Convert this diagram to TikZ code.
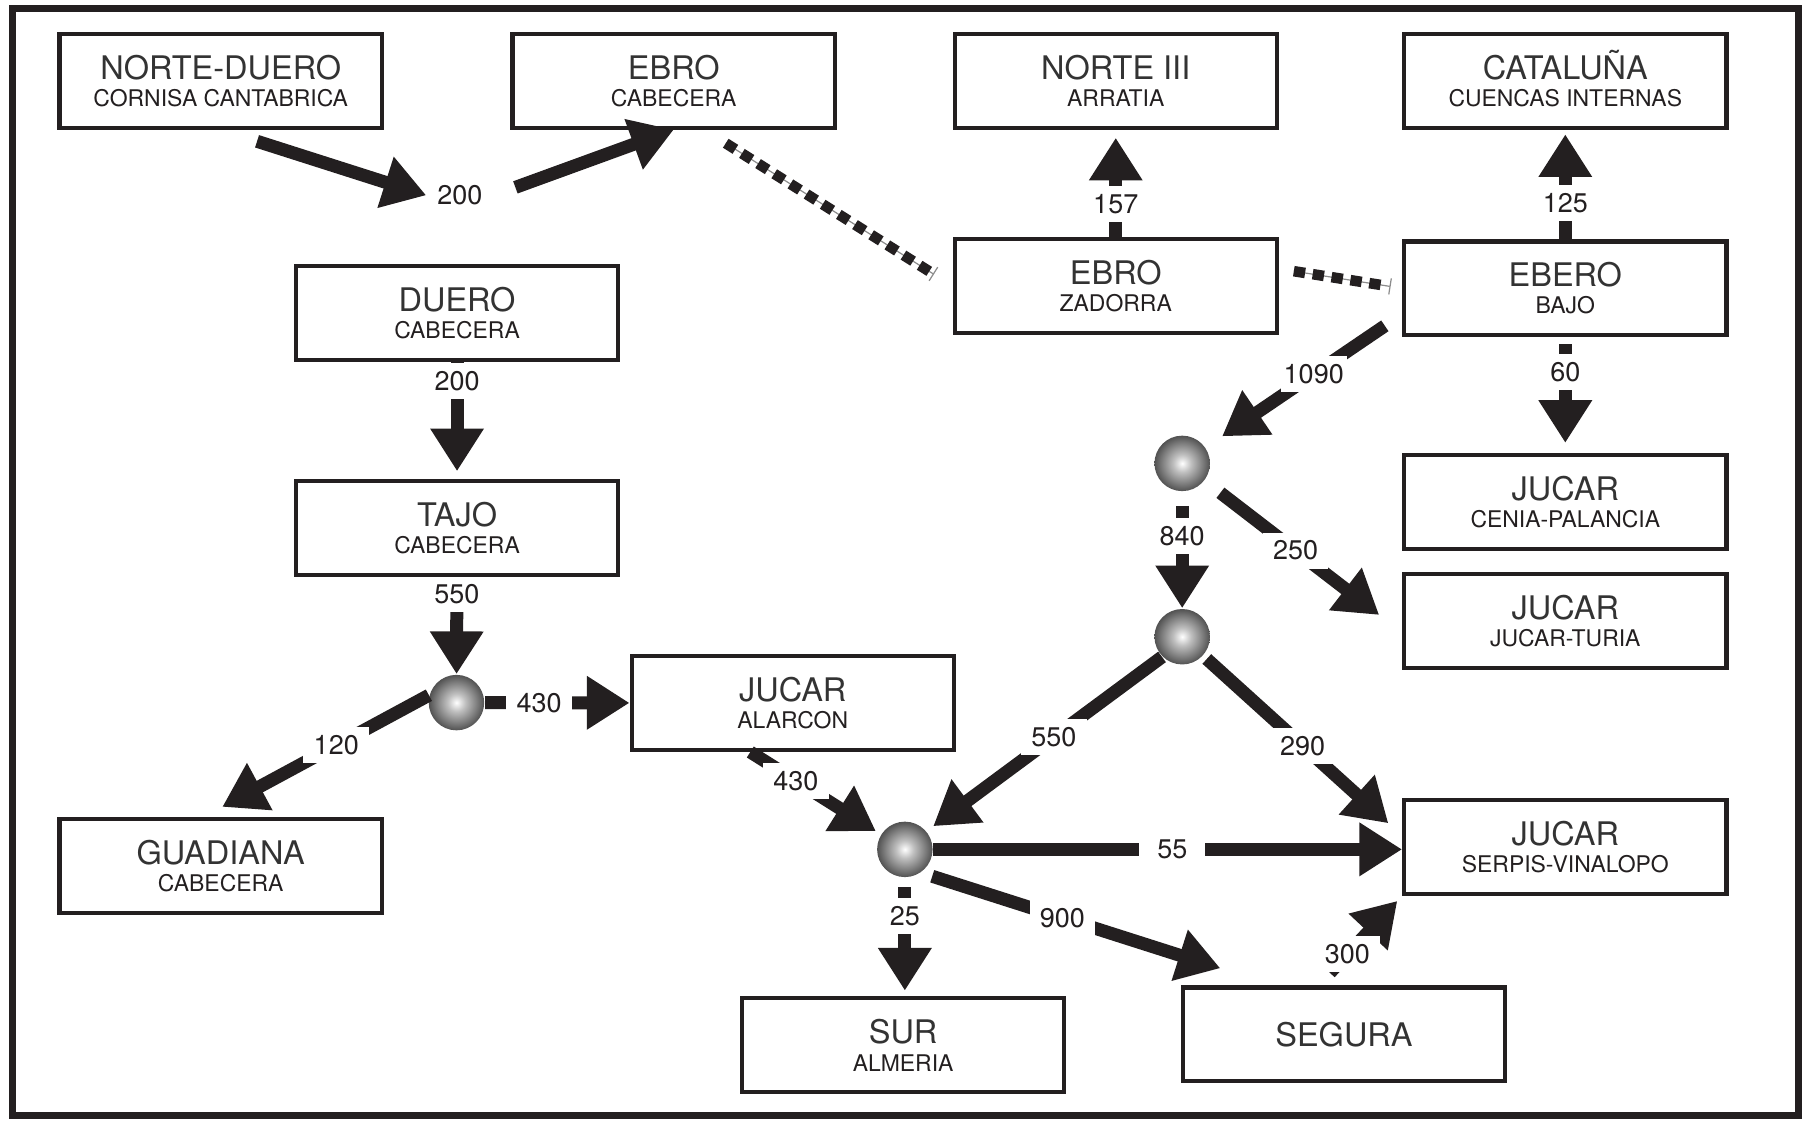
\documentclass[tikz,border=0pt]{standalone}
\usepackage{fontspec}
\setmainfont{TeX Gyre Heros}
\usetikzlibrary{arrows.meta}
\definecolor{ink}{HTML}{231F20}
\pgfdeclareradialshading{ballgray}{\pgfpoint{0bp}{0bp}}{color(0bp)=(white); color(8bp)=(black!25); color(18bp)=(black!50); color(25bp)=(black!68); color(50bp)=(black!68)}
\newcommand{\reg}[2]{{\color{black!80}#1}\\{\fontsize{5.65}{6.75}\selectfont #2}}

\begin{document}
\begin{tikzpicture}
	\tikzstyle{basin}=[draw=ink,line width=1pt,shape=rectangle,minimum width=2.79cm,minimum height=0.81cm,align=center,text=ink,font=\fontsize{8}{6.75}\selectfont]
	\tikzstyle{junction}=[shape=circle,shading=ballgray,minimum size=0.48cm,inner sep=0pt]
	\tikzstyle{flow}=[ink,line width=3.2pt,-{Triangle[width=12.5pt,length=10.5pt]}]
	\tikzstyle{qty}=[fill=white,text=ink,font=\fontsize{6.65}{7}\selectfont,inner sep=0pt,minimum width=0.57cm,minimum height=0.31cm]
	\tikzstyle{ebrolink}=[ink,line width=2.6pt,dash pattern=on 2.8pt off 1.9pt]
	\tikzstyle{hair}=[black!45,line width=0.3pt,-{Bar[width=4pt]}]

	\useasboundingbox (0,0) rectangle (15.68,9.70);
	\draw[ink,line width=1.7pt] (0.11,0.05) rectangle (15.56,9.63);

	\node[basin](nduero) at (1.91,9.00){\reg{NORTE-DUERO}{CORNISA CANTABRICA}};
	\node[basin](ebrocab) at (5.83,9.00){\reg{EBRO}{CABECERA}};
	\node[basin](norte3) at (9.655,9.00){\reg{NORTE III}{ARRATIA}};
	\node[basin](catal) at (13.545,9.00){\reg{CATALU\smash{Ñ}A}{CUENCAS INTERNAS}};
	
	\node[basin](duero) at (3.955,6.99){\reg{DUERO}{CABECERA}};
	\node[basin](tajo) at (3.955,5.13){\reg{TAJO}{CABECERA}};
	\node[basin](guadiana) at (1.91,2.205){\reg{GUADIANA}{CABECERA}};
	\node[basin](alarcon) at (6.86,3.615){\reg{JUCAR}{ALARCON}};
	\node[basin](sur) at (7.815,0.655){\reg{SUR}{ALMERIA}};
	\node[basin](segura) at (11.63,0.75){\color{black!80}SEGURA};
	
	\node[basin](zadorra) at (9.655,7.225){\reg{EBRO}{ZADORRA}};
	\node[basin](ebrobajo) at (13.545,7.205){\reg{EBERO}{BAJO}};
	\node[basin](cenia) at (13.545,5.355){\reg{JUCAR}{CENIA-PALANCIA}};
	\node[basin](turia) at (13.545,4.325){\reg{JUCAR}{JUCAR-TURIA}};
	\node[basin](serpis) at (13.545,2.37){\reg{JUCAR}{SERPIS-VINALOPO}};
	
	\node[junction](j1) at (3.95,3.62){};
	\node[junction](j2) at (10.23,5.69){};
	\node[junction](j3) at (10.23,4.19){};
	\node[junction](j4) at (7.83,2.35){};
	
	\node[qty](q200) at (3.98,8.01){200};
	
	\draw[flow,shorten <=0.33cm] (nduero.south) -- (q200.west);
	\draw[flow,shorten <=0.2cm] (q200.east) -- (ebrocab.south);
	
	\draw[hair,shorten <=0.22cm,shorten >=0.19cm] (ebrocab.-58) -- (zadorra.west);
	\draw[ebrolink,shorten <=0.22cm,shorten >=0.23cm] (ebrocab.-58) -- (zadorra.west);
	\draw[hair,shorten <=0.13cm,shorten >=0.1cm] (zadorra.6) -- (ebrobajo.west);
	\draw[ebrolink,shorten <=0.13cm,shorten >=0.14cm] (zadorra.6) -- (ebrobajo.west);
	
	\draw[flow,shorten >=0.07cm] (duero) -- (tajo) node[qty,pos=0.16]{200};
	\draw[flow] (tajo) -- (j1) node[qty,pos=0.18]{550};
	\draw[flow,shorten >=0.19cm] (j1.165) -- (guadiana.110) node[qty,pos=0.41]{120};
	\draw[flow] (j1) -- (alarcon) node[qty,pos=0.375]{430};
	\draw[flow,shorten >=0.05cm] (alarcon.-131) -- (j4) node[qty,pos=0.35]{430};
	
	\draw[flow,shorten >=0.07cm] (zadorra) -- (norte3) node[qty,pos=0.31]{157};
	\draw[flow,shorten >=0.04cm] (ebrobajo) -- (catal) node[qty,pos=0.33]{125};
	\draw[flow,shorten <=0.06cm,shorten >=0.09cm] (ebrobajo) -- (cenia) node[qty,pos=0.3]{60};
	\draw[flow,shorten <=0.18cm,shorten >=0.17cm] (ebrobajo.-171) -- (j2) node[qty,pos=0.45]{1090};
	
	\draw[flow,shorten <=0.12cm] (j2) -- (j3) node[qty,pos=0.38]{840};
	\draw[flow,shorten <=0.17cm,shorten >=0.25cm] (j2) -- (turia.184) node[qty,pos=0.46]{250};
	\draw[flow,shorten >=0.07cm] (j3.-135) -- (j4.40) node[qty,pos=0.46]{550};
	\draw[flow,shorten <=0.04cm,shorten >=0.16cm] (j3) -- (serpis.176) node[qty,pos=0.5]{290};
	
	\draw[flow] (j4) -- (j4 -| serpis.west) node[qty,pos=0.51]{55};
	\draw[flow,shorten <=0.08cm,shorten >=0.05cm] (j4) -- (j4 |- sur.north) node[qty,pos=0.32]{25};
	\draw[flow,shorten <=0.1cm,shorten >=0.49cm] (j4.-55) -- (segura.145) node[qty,pos=0.4]{900};
	\draw[flow,shorten <=0.15cm,shorten >=0.06cm] (segura.118) -- (serpis.south west) node[qty,pos=0.35]{300};
\end{tikzpicture}
\end{document}
